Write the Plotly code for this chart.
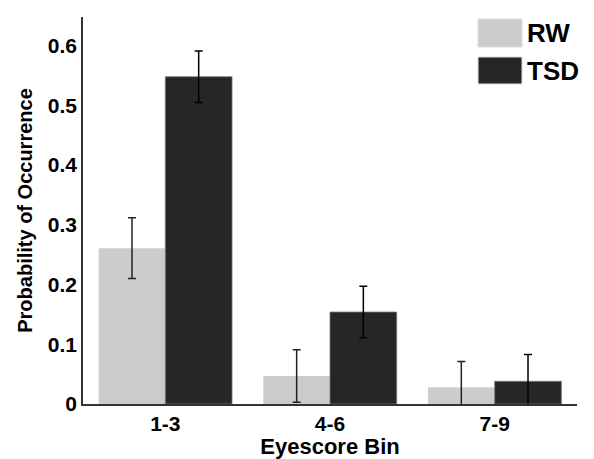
import plotly.graph_objects as go

categories = ["1-3", "4-6", "7-9"]
rw_values = [0.261, 0.047, 0.028]
rw_errors = [0.051, 0.044, 0.043]
tsd_values = [0.548, 0.154, 0.038]
tsd_errors = [0.043, 0.043, 0.045]
y_ticks = [0, 0.1, 0.2, 0.3, 0.4, 0.5, 0.6]
y_tick_labels = ["0", "0.1", "0.2", "0.3", "0.4", "0.5", "0.6"]

FONT = "Liberation Sans, Arial, sans-serif"
RW_COLOR = "#cccccc"
TSD_COLOR = "#262626"
ERR_COLOR = "#222222"

fig = go.Figure()
fig.add_trace(go.Bar(
    name="RW", x=categories, y=rw_values,
    marker=dict(color=RW_COLOR, line=dict(width=0)),
    error_y=dict(type="data", array=rw_errors, visible=True,
                 color=ERR_COLOR, thickness=1.5, width=4),
))
fig.add_trace(go.Bar(
    name="TSD", x=categories, y=tsd_values,
    marker=dict(color=TSD_COLOR, line=dict(width=0.8, color="#777777")),
    error_y=dict(type="data", array=tsd_errors, visible=True,
                 color="#000000", thickness=1.5, width=4),
))

fig.update_layout(
    width=594, height=459,
    margin=dict(l=83, r=17, t=17, b=55),
    paper_bgcolor="white", plot_bgcolor="white",
    barmode="group", bargap=0.19, bargroupgap=0,
    showlegend=False,
    font=dict(family=FONT, color="black"),
    xaxis=dict(
        range=[-0.5, 2.5], showline=True, linecolor="#333333", linewidth=1.5,
        ticks="", showgrid=False, zeroline=False, automargin=False,
        tickfont=dict(size=21, family=FONT, weight="bold"),
        title=dict(text="<b>Eyescore Bin</b>", font=dict(size=22), standoff=0),
    ),
    yaxis=dict(
        range=[0, 0.648], showline=True, linecolor="#333333", linewidth=1.5,
        ticks="", showgrid=False, zeroline=False, automargin=False,
        tickvals=y_ticks, ticktext=y_tick_labels,
        tickfont=dict(size=21, family=FONT, weight="bold"),
        title=dict(text="<b>Probability of Occurrence</b>", font=dict(size=20), standoff=10),
    ),
)

# Custom legend with large swatches
legend_items = [("RW", RW_COLOR, 19, 47), ("TSD", TSD_COLOR, 57, 84)]
for name, color, y0, y1 in legend_items:
    fig.add_shape(type="rect", xref="paper", yref="paper",
                  x0=(478 - 83) / 494, x1=(522 - 83) / 494,
                  y0=1 - (y1 - 17) / 387, y1=1 - (y0 - 17) / 387,
                  fillcolor=color, line=dict(width=1, color="#dddddd"))
    fig.add_annotation(xref="paper", yref="paper",
                       x=(525 - 83) / 494, y=1 - ((y0 + y1) / 2 - 17) / 387,
                       xanchor="left", yanchor="middle", showarrow=False,
                       text=f"<b>{name}</b>", font=dict(size=26, family=FONT, color="black"))

fig.write_html("out.html", config={"displayModeBar": False},
               post_script="document.body.style.margin='0';document.body.style.overflow='hidden';")
